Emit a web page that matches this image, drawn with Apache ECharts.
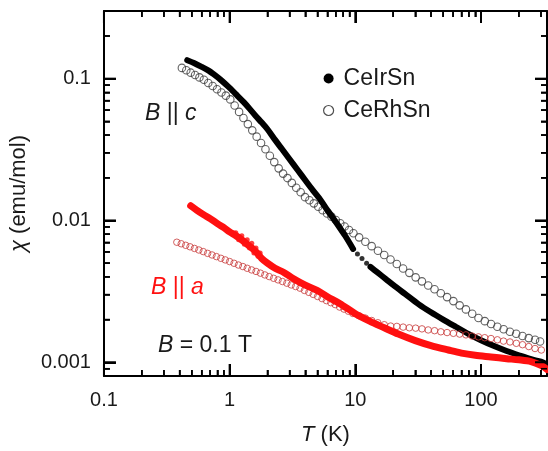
<!DOCTYPE html>
<html>
<head>
<meta charset="utf-8">
<script src="https://cdn.jsdelivr.net/npm/echarts@6/dist/echarts.min.js"></script>
<style>
  html, body { margin: 0; padding: 0; background: #fff; }
  #chart { width: 548px; height: 451px; }
</style>
</head>
<body>
<div id="chart"></div>
<script>
// Axis ranges (log scales)
const xRange = [0.1, 335];
const yRange = [0.0008, 0.3];
const xMajorTicks = [0.1, 1, 10, 100];
const yMajorTicks = [0.001, 0.01, 0.1];
const xMinorTicks = [0.2, 0.3, 0.4, 0.5, 0.6, 0.7, 0.8, 0.9,
                     2, 3, 4, 5, 6, 7, 8, 9,
                     20, 30, 40, 50, 60, 70, 80, 90, 200, 300];
const yMinorTicks = [0.0009, 0.002, 0.003, 0.004, 0.005, 0.006, 0.007, 0.008, 0.009,
                     0.02, 0.03, 0.04, 0.05, 0.06, 0.07, 0.08, 0.09, 0.2];

// CeIrSn, B || c (filled, black)
const irC_T   = [0.46, 0.52, 0.6, 0.68, 0.75, 0.85, 1.0, 1.15, 1.3, 1.45, 1.6, 1.8, 2.0, 2.3, 2.6, 3.0, 3.5, 4.0, 4.6, 5.3, 6.0, 6.6, 7.2, 8.3, 9.6,
                 null,
                 13.2, 15, 17.5, 20, 25, 32, 40, 50, 63, 80, 100, 130, 160, 200, 250, 300, 330];
const irC_chi = [0.135, 0.129, 0.121, 0.114, 0.107, 0.098, 0.086, 0.076, 0.068, 0.061, 0.055, 0.049, 0.044, 0.037, 0.032, 0.027, 0.0225, 0.0192, 0.0163, 0.0139, 0.0118, 0.0105, 0.0094, 0.0078, 0.0063,
                 null,
                 0.0047, 0.0043, 0.00386, 0.00351, 0.00302, 0.00256, 0.00225, 0.00200, 0.00178, 0.00158, 0.00143, 0.00129, 0.00120, 0.00112, 0.00105, 0.00101, 0.00097];
// isolated points in the 10-13 K gap
const irC_gapT   = [10.4, 11.3, 12.3];
const irC_gapChi = [0.0058, 0.0054, 0.0050];

// CeIrSn, B || a (filled, red)
const irA_T   = [0.49, 0.55, 0.62, 0.7, 0.8, 0.9, 1.0, 1.1, 1.2, 1.35, 1.5, 1.65, 1.8, 2.0, 2.3, 2.7, 3.2, 4.0, 5.0, 6.0, 7.5, 10, 13, 17, 22, 30, 40, 55, 70, 90, 120, 160, 200, 250, 300, 335];
const irA_chi = [0.0127, 0.0118, 0.0110, 0.0103, 0.0095, 0.0089, 0.0083, 0.0079, 0.0075, 0.0069, 0.0064, 0.0059, 0.0054, 0.0050, 0.0046, 0.0043, 0.0039, 0.0035, 0.0032, 0.0029, 0.0026, 0.0022, 0.00195, 0.00175, 0.00158, 0.00142, 0.00131, 0.00122, 0.00116, 0.00112, 0.00109, 0.00106, 0.00104, 0.00101, 0.00095, 0.00089];
// scattered readings between 1.1 and 1.8 K
const irA_noiseT   = [1.12, 1.18, 1.25, 1.31, 1.38, 1.44, 1.5, 1.56, 1.62, 1.68, 1.75];
const irA_noiseChi = [0.0082, 0.0073, 0.0078, 0.0068, 0.0073, 0.0064, 0.0069, 0.0059, 0.0064, 0.0056, 0.0059];

// CeRhSn, B || c (open, grey)
const rhC_T   = [0.417, 0.452, 0.490, 0.531, 0.575, 0.624, 0.676, 0.733, 0.794, 0.861, 0.933, 1.012, 1.096, 1.189, 1.288, 1.396, 1.514, 1.641, 1.778, 1.928,
                 2.089, 2.265, 2.455, 2.661, 2.884, 3.126, 3.388, 3.673, 3.981, 4.315, 4.677, 5.070, 5.495, 5.957, 6.457, 6.998, 7.586, 8.222, 8.913, 9.661,
                 10.72, 12.02, 13.49, 15.14, 16.98, 19.05, 21.38, 23.99, 26.92, 30.20, 33.88, 38.02, 42.66, 47.86, 53.70, 60.26, 67.61, 75.86, 85.11, 95.50,
                 107.2, 120.2, 134.9, 151.4, 169.8, 190.5, 213.8, 239.9, 269.2, 295.1];
const rhC_chi = [0.1191, 0.1146, 0.1102, 0.1062, 0.1021, 0.0982, 0.0933, 0.0887, 0.0841, 0.0798, 0.0759, 0.0714, 0.0646, 0.0583, 0.0528, 0.0478, 0.0432, 0.0390, 0.0352, 0.0318,
                 0.0286, 0.0258, 0.0233, 0.0214, 0.0199, 0.0184, 0.0170, 0.0158, 0.0146, 0.0139, 0.0132, 0.0125, 0.0118, 0.0112, 0.01064, 0.01007, 0.00955, 0.00906, 0.00857, 0.00813,
                 0.00760, 0.00708, 0.00659, 0.00612, 0.00570, 0.00530, 0.00493, 0.00458, 0.00427, 0.00397, 0.00372, 0.00348, 0.00327, 0.00307, 0.00288, 0.00270, 0.00252, 0.00236, 0.00220, 0.00205,
                 0.00195, 0.00186, 0.00178, 0.00171, 0.00164, 0.00159, 0.00153, 0.00148, 0.00144, 0.00140];

// CeRhSn, B || a (open, red)
const rhA_T   = [0.380, 0.412, 0.447, 0.484, 0.525, 0.569, 0.617, 0.668, 0.724, 0.785, 0.851, 0.923, 1.000, 1.084, 1.175, 1.274, 1.380, 1.496, 1.622, 1.758,
                 1.905, 2.065, 2.239, 2.427, 2.630, 2.851, 3.090, 3.350, 3.631, 3.936, 4.266, 4.624, 5.012, 5.433, 5.888, 6.383, 6.918, 7.499, 8.128, 8.810, 9.550,
                 10.7, 12.0, 13.5, 15.1, 17.0, 19.1, 21.4, 24.0, 26.9, 30.2, 33.9, 38.0, 42.7, 47.9, 53.7, 60.3, 67.6, 75.9, 85.1, 95.5,
                 107, 120, 135, 151, 170, 191, 214, 240, 269, 302];
const rhA_chi = [0.00702, 0.00685, 0.00668, 0.00652, 0.00635, 0.00619, 0.00603, 0.00586, 0.00571, 0.00556, 0.00541, 0.00527, 0.00513, 0.00499, 0.00485, 0.00473, 0.00460, 0.00448, 0.00437, 0.00425,
                 0.00413, 0.00402, 0.00391, 0.00381, 0.00371, 0.00361, 0.00351, 0.00342, 0.00333, 0.00321, 0.00311, 0.00301, 0.00291, 0.00281, 0.00272, 0.00263, 0.00255, 0.00245, 0.00237, 0.00229, 0.00221,
                 0.00213, 0.00205, 0.00197, 0.00190, 0.00184, 0.00180, 0.00179, 0.00177, 0.00175, 0.00174, 0.00172, 0.00169, 0.00167, 0.00164, 0.00162, 0.00160, 0.00158, 0.00156, 0.00153, 0.00151,
                 0.00149, 0.00147, 0.00144, 0.00141, 0.00139, 0.00136, 0.00133, 0.00129, 0.00125, 0.00122];

const FONT = '"Liberation Sans", Arial, Helvetica, sans-serif';
const INK = '#1a1a1a';
const RED = '#ff1010';

const pairs = (xs, ys) => xs.map((x, i) => (x == null ? [null, null] : [x, ys[i]]));
const fmt = v => String(+Number(v).toPrecision(3));

// log axis; the labelled copies carry the ticks, the others only the frame edge
function logAxis(range, position, opts) {
  const ticks = opts.ticks || [];
  return {
    type: 'log', logBase: 10, min: range[0], max: range[1], position: position,
    axisLine: { show: opts.line !== false, onZero: false, lineStyle: { color: '#000', width: 2 } },
    axisTick: { show: true, inside: true, length: opts.len || 12, interval: 0,
      customValues: ticks, lineStyle: { color: '#000', width: opts.w || 2 } },
    axisLabel: opts.label ? Object.assign({ show: true, customValues: ticks, formatter: fmt,
      fontSize: 20, color: INK, fontFamily: FONT }, opts.label) : { show: false },
    splitLine: { show: false }, minorTick: { show: false },
    name: opts.name || '', nameLocation: 'middle', nameGap: opts.nameGap || 0,
    nameTextStyle: { fontSize: 22, color: INK, fontFamily: FONT,
      rich: { i: { fontStyle: 'italic', fontSize: 22, color: INK, fontFamily: FONT } } },
    silent: true
  };
}

// Inward tick marks drawn as thin bars anchored on the frame edges
function tickSeries(values, side, len, w, xi, yi) {
  const horiz = side === 'left' || side === 'right';
  const data = values.map(v => {
    if (side === 'bottom') return [v, yRange[0]];
    if (side === 'top') return [v, yRange[1]];
    if (side === 'left') return [xRange[0], v];
    return [xRange[1], v];
  });
  const off = { bottom: [0, -len / 2], top: [0, len / 2], left: [len / 2, 0], right: [-len / 2, 0] }[side];
  return {
    type: 'scatter', data: data, symbol: 'rect', symbolSize: horiz ? [len, w] : [w, len],
    symbolOffset: off, itemStyle: { color: '#000', opacity: 1 }, clip: false, silent: true, z: 20,
    emphasis: { disabled: true }
  };
}

const annotations = [
  { type: 'text', x: 145, y: 114, silent: true, z: 20,
    style: { text: '{i|B} || {i|c}', fill: INK, fontSize: 23, fontFamily: FONT, verticalAlign: 'middle',
      rich: { i: { fontStyle: 'italic', fontSize: 23, fontFamily: FONT, fill: INK } } } },
  { type: 'text', x: 151, y: 288, silent: true, z: 20,
    style: { text: '{i|B} || {i|a}', fill: RED, fontSize: 23, fontFamily: FONT, verticalAlign: 'middle',
      rich: { i: { fontStyle: 'italic', fontSize: 23, fontFamily: FONT, fill: RED } } } },
  { type: 'text', x: 158, y: 346, silent: true, z: 20,
    style: { text: '{i|B} = 0.1 T', fill: INK, fontSize: 23, fontFamily: FONT, verticalAlign: 'middle',
      rich: { i: { fontStyle: 'italic', fontSize: 23, fontFamily: FONT, fill: INK } } } }
];

const chart = echarts.init(document.getElementById('chart'), null, { renderer: 'canvas' });
chart.setOption({
  animation: false,
  backgroundColor: '#fff',
  textStyle: { fontFamily: FONT },
  grid: { left: 99, right: 1, top: 11, bottom: 68 },
  xAxis: [
    logAxis(xRange, 'bottom', { ticks: xMajorTicks, label: { margin: 14 }, name: '{i|T} (K)', nameGap: 48 }),
    logAxis(xRange, 'top', { ticks: xMajorTicks }),
    logAxis(xRange, 'bottom', { ticks: xMinorTicks, len: 6, w: 1.6, line: false }),
    logAxis(xRange, 'top', { ticks: xMinorTicks, len: 6, w: 1.6, line: false })
  ],
  yAxis: [
    logAxis(yRange, 'left', { ticks: yMajorTicks, label: { margin: 13 }, name: '{i|χ} (emu/mol)', nameGap: 64 }),
    logAxis(yRange, 'right', { ticks: yMajorTicks }),
    logAxis(yRange, 'left', { ticks: yMinorTicks, len: 6, w: 1.6, line: false }),
    logAxis(yRange, 'right', { ticks: yMinorTicks, len: 6, w: 1.6, line: false })
  ],
  legend: {
    orient: 'vertical', left: 323, top: 67, itemWidth: 20, itemHeight: 10, itemGap: 9,
    selectedMode: false, padding: 0,
    textStyle: { fontSize: 23, color: INK, fontFamily: FONT },
    data: [
      { name: 'CeIrSn', icon: 'circle', itemStyle: { color: '#000', borderWidth: 0 } },
      { name: 'CeRhSn', icon: 'circle', itemStyle: { color: '#fff', borderColor: '#222', borderWidth: 1.2 } }
    ]
  },
  graphic: annotations,
  series: [
    { name: 'CeRhSn', type: 'scatter', data: pairs(rhC_T, rhC_chi), symbol: 'circle', symbolSize: 7.5,
      itemStyle: { color: 'rgba(0,0,0,0)', borderColor: '#3c3c3c', borderWidth: 1.1 }, z: 2 },
    { name: 'CeIrSn', type: 'line', data: pairs(irC_T, irC_chi), showSymbol: false, smooth: 0.3,
      connectNulls: false, lineStyle: { color: '#000', width: 6, cap: 'round', join: 'round' },
      itemStyle: { color: '#000' }, z: 3 },
    { name: 'CeIrSn', type: 'scatter', data: pairs(irC_gapT, irC_gapChi), symbolSize: 5,
      itemStyle: { color: '#000' }, z: 3 },
    { name: 'CeRhSn', type: 'scatter', data: pairs(rhA_T, rhA_chi), symbol: 'circle', symbolSize: 6.5,
      itemStyle: { color: 'rgba(0,0,0,0)', borderColor: '#c83a3a', borderWidth: 1 }, z: 4 },
    { name: 'CeIrSn', type: 'line', data: pairs(irA_T, irA_chi), showSymbol: false, smooth: 0.3,
      lineStyle: { color: RED, width: 7, cap: 'round', join: 'round' }, itemStyle: { color: RED }, z: 5 },
    { name: 'CeIrSn', type: 'scatter', data: pairs(irA_noiseT, irA_noiseChi), symbolSize: 5,
      itemStyle: { color: RED }, z: 5 },
    tickSeries(xMajorTicks, 'bottom', 12, 2),
    tickSeries(xMajorTicks, 'top', 12, 2),
    tickSeries(xMinorTicks, 'bottom', 6, 1.6),
    tickSeries(xMinorTicks, 'top', 6, 1.6),
    tickSeries(yMajorTicks, 'left', 12, 2),
    tickSeries(yMajorTicks, 'right', 12, 2),
    tickSeries(yMinorTicks, 'left', 6, 1.6),
    tickSeries(yMinorTicks, 'right', 6, 1.6)
  ]
});
</script>
</body>
</html>
